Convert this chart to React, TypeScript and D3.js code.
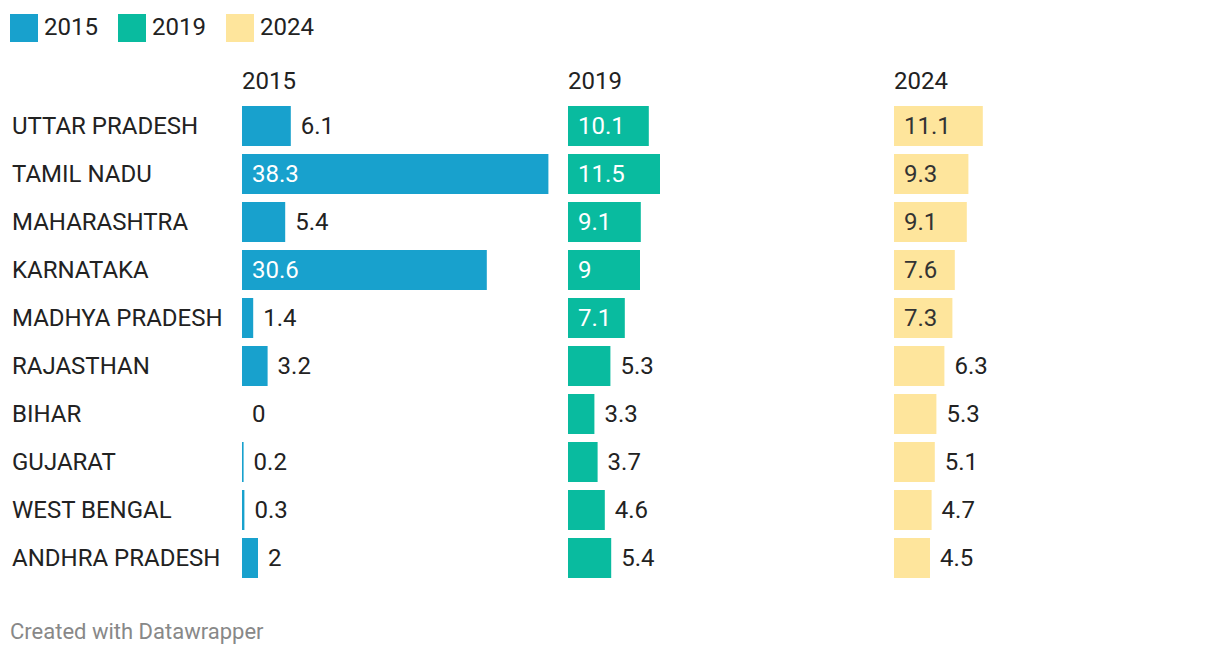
import * as d3 from "d3";

const states = [
  "UTTAR PRADESH",
  "TAMIL NADU",
  "MAHARASHTRA",
  "KARNATAKA",
  "MADHYA PRADESH",
  "RAJASTHAN",
  "BIHAR",
  "GUJARAT",
  "WEST BENGAL",
  "ANDHRA PRADESH",
];
const years = ["2015", "2019", "2024"];
const values2015 = [6.1, 38.3, 5.4, 30.6, 1.4, 3.2, 0, 0.2, 0.3, 2];
const values2019 = [10.1, 11.5, 9.1, 9, 7.1, 5.3, 3.3, 3.7, 4.6, 5.4];
const values2024 = [11.1, 9.3, 9.1, 7.6, 7.3, 6.3, 5.3, 5.1, 4.7, 4.5];

const series = [values2015, values2019, values2024];
const colors = ["#18a1cd", "#09bb9f", "#fee59c"];
const insideText = ["#ffffff", "#ffffff", "#333333"];

const WIDTH = 1220;
const HEIGHT = 656;
const FONT = "Roboto, 'Noto Sans', sans-serif";
const FS = 24;

export default function App() {
  const col = d3.scaleBand<string>().domain(years).range([242, 242 + 326 * 3]);
  const y = d3
    .scaleBand<string>()
    .domain(states)
    .range([102, 102 + 48 * states.length])
    .paddingInner(1 / 6)
    .paddingOuter(1 / 12);
  const x = d3.scaleLinear().domain([0, 40]).range([0, 320]);

  return (
    <svg
      width={WIDTH}
      height={HEIGHT}
      style={{ position: "absolute", left: 0, top: 0, fontFamily: FONT }}
    >
      {/* legend */}
      {years.map((yr, i) => (
        <g key={yr} transform={`translate(${10 + i * 108}, 14)`}>
          <rect width={28} height={28} fill={colors[i]} />
          <text x={34} y={13} dy="0.35em" fontSize={FS} fill="#222">
            {yr}
          </text>
        </g>
      ))}

      {/* row labels */}
      {states.map(s => (
        <text
          key={s}
          x={12}
          y={(y(s) ?? 0) + y.bandwidth() / 2}
          dy="0.35em"
          fontSize={FS}
          fill="#222"
        >
          {s}
        </text>
      ))}

      {years.map((yr, i) => {
        const x0 = col(yr) ?? 0;
        return (
          <g key={yr} transform={`translate(${x0}, 0)`}>
            <text x={0} y={81} dy="0.35em" fontSize={FS} fill="#222">
              {yr}
            </text>
            {series[i].map((v, j) => {
              const w = x(v);
              const yy = (y(states[j]) ?? 0) + y.bandwidth() / 2;
              const inside = w > 55;
              return (
                <g key={j}>
                  <rect
                    x={0}
                    y={y(states[j])}
                    width={w}
                    height={y.bandwidth()}
                    fill={colors[i]}
                  />
                  <text
                    x={inside ? 10 : w + 10}
                    y={yy}
                    dy="0.35em"
                    fontSize={FS}
                    fill={inside ? insideText[i] : "#222"}
                  >
                    {v}
                  </text>
                </g>
              );
            })}
          </g>
        );
      })}

      <text x={10} y={631} dy="0.35em" fontSize={22} fill="#888">
        Created with Datawrapper
      </text>
    </svg>
  );
}
